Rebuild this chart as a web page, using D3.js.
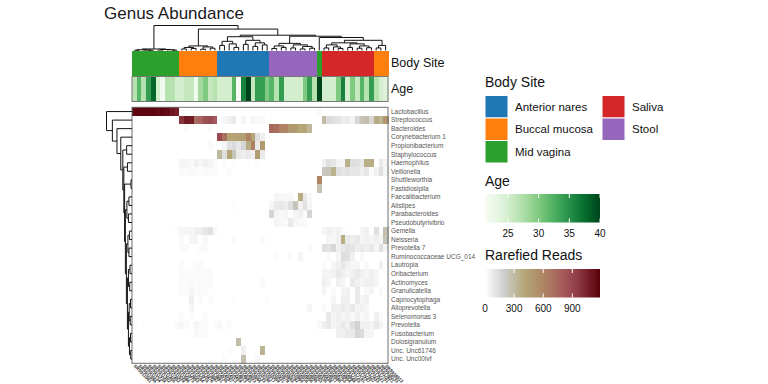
<!DOCTYPE html>
<html><head><meta charset="utf-8">
<script src="https://cdn.jsdelivr.net/npm/d3@7"></script>
<style>
body{margin:0;background:#fff;}
svg{display:block;font-family:"Liberation Sans",Arial,Helvetica,sans-serif;}
</style>
</head><body>
<svg id="chart" width="768" height="384"></svg>
<script>
// ---------------- DATA ----------------
const genera = ["Lactobacillus","Streptococcus","Bacteroides","Corynebacterium 1","Propionibacterium",
  "Staphylococcus","Haemophilus","Veillonella","Shuttleworthia","Fastidiosipila","Faecalibacterium",
  "Alistipes","Parabacteroides","Pseudobutyrivibrio","Gemella","Neisseria","Prevotella 7",
  "Ruminococcaceae UCG_014","Lautropia","Oribacterium","Actinomyces","Granulicatella","Capnocytophaga",
  "Alloprevotella","Selenomonas 3","Prevotella","Fusobacterium","Dolosigranulum","Unc. Unc61746","Unc. Unc00lvf"];

const samples = ["SRS011061","SRS011090","SRS011134","SRS011239","SRS011302","SRS011405","SRS011452","SRS011529",
  "SRS011586","SRS012273","SRS012663","SRS013164","SRS013215","SRS013476","SRS013687","SRS013881",
  "SRS014235","SRS014287","SRS014313","SRS014459","SRS014613","SRS014683","SRS014923","SRS015044",
  "SRS015133","SRS015190","SRS015217","SRS015369","SRS015431","SRS015578","SRS015663","SRS015782",
  "SRS015960","SRS016018","SRS016056","SRS016095","SRS016203","SRS016335","SRS016438","SRS016517",
  "SRS016585","SRS016753","SRS016954","SRS016989","SRS017103","SRS017191","SRS017247","SRS017307",
  "SRS017433","SRS017521","SRS017701","SRS017821","SRS018133","SRS018313"];

const bodySite = [
  "Mid vagina","Mid vagina","Mid vagina","Mid vagina","Mid vagina","Mid vagina","Mid vagina","Mid vagina","Mid vagina","Mid vagina",
  "Buccal mucosa","Buccal mucosa","Buccal mucosa","Buccal mucosa","Buccal mucosa","Buccal mucosa","Buccal mucosa","Buccal mucosa",
  "Anterior nares","Anterior nares","Anterior nares","Anterior nares","Anterior nares","Anterior nares","Anterior nares","Anterior nares","Anterior nares","Anterior nares","Anterior nares",
  "Stool","Stool","Stool","Stool","Stool","Stool","Stool","Stool","Stool","Stool",
  "Mid vagina",
  "Saliva","Saliva","Saliva","Saliva","Saliva","Saliva","Saliva","Saliva","Saliva","Saliva","Saliva",
  "Buccal mucosa","Buccal mucosa","Buccal mucosa"];

const age = [27,32,27,34,38,25,22,27,27,25, 25,26,26,22,28,30,26,27, 25,25,25,32,21,36,40,26,34,34,30,
  32,27,34,25,25,25,25,30,34,27, 40, 25,25,25,30,36,25,30,26,32,27,34, 27,25,24];

const siteNames = ["Anterior nares","Buccal mucosa","Mid vagina","Saliva","Stool"];
const siteColors = ["#1f77b4","#ff7f0e","#2ca02c","#d62728","#9467bd"];

const ageTicks = [25,30,35,40];
const ageLimits = [21.25,40];
const readTicks = [0,300,600,900];
const readLimits = [0,1185];
const readStops = [0,200,400,620,800,930,1185];
const readColors = ["#ffffff","#cdcdcd","#b4a878","#ae8262","#a65c5c","#94404a","#5a0008"];

// rarefied reads, one row per genus, one value per sample (column order above)
const reads = [
 [1170,1160,1170,1165,1170,1150,1160,1140,1090,1060, 0,0,0,0,0,0,0,0, 0,0,0,0,0,0,0,0,0,0,0, 0,0,0,0,0,0,0,0,0,0, 20, 0,0,0,0,0,0,0,0,0,0,0, 0,0,0],
 [0,0,0,0,0,0,0,0,0,15, 980,1080,1070,720,760,860,880,820, 0,40,60,90,0,40,0,40,20,30,0, 0,0,0,0,0,0,0,0,0,0, 0, 300,150,130,110,70,80,50,160,260,280,170, 380,330,520],
 [0,0,0,0,0,0,0,0,0,0, 0,15,0,0,0,0,15,0, 0,0,0,0,0,0,0,0,0,0,0, 740,720,620,600,500,480,400,420,320,0, 0, 0,0,0,0,0,0,0,0,0,0,0, 0,0,0],
 [0,0,0,0,0,0,0,0,0,0, 0,0,0,0,0,0,0,0, 880,700,420,430,450,440,620,420,130,60,0, 0,0,0,0,0,0,0,0,0,0, 0, 0,0,0,0,0,0,0,0,0,0,0, 0,0,0],
 [0,0,0,0,0,0,0,0,0,0, 0,0,0,0,0,0,20,0, 0,40,130,150,100,170,380,640,90,480,0, 0,0,0,0,0,0,0,0,0,0, 0, 0,0,0,0,0,0,0,0,0,0,0, 0,0,0],
 [0,0,0,0,0,0,0,0,0,0, 0,0,0,0,0,0,0,0, 310,130,420,250,90,70,90,60,470,90,0, 0,0,0,0,0,0,0,0,0,0, 0, 0,0,0,0,0,0,0,0,0,0,0, 0,0,0],
 [0,0,0,0,0,0,0,0,0,0, 40,40,25,60,40,60,40,20, 0,20,0,15,0,0,0,0,15,0,0, 0,0,0,0,0,0,0,0,0,0, 0, 60,130,100,50,40,360,130,120,90,360,370, 0,90,40],
 [0,0,0,0,0,0,0,0,0,0, 20,15,25,20,15,25,20,15, 0,0,15,0,0,0,0,0,0,0,0, 0,0,0,0,0,0,0,0,0,0, 0, 230,240,350,130,100,120,100,100,70,100,20, 60,130,40],
 [0,0,0,0,0,0,0,0,0,0, 0,0,0,0,0,0,0,0, 0,0,0,0,0,0,0,0,0,0,0, 0,0,0,0,0,0,0,0,0,0, 600, 0,0,0,0,0,0,0,0,0,0,0, 0,0,0],
 [0,0,0,0,0,0,0,0,0,0, 0,0,0,0,0,0,0,0, 0,0,0,0,0,0,0,0,0,0,0, 0,0,0,0,0,0,0,0,0,0, 260, 0,0,0,0,0,0,0,0,0,0,0, 0,0,0],
 [0,0,0,0,0,0,0,0,0,0, 0,0,0,0,0,0,0,0, 0,0,0,0,0,0,0,0,0,0,0, 0,40,30,30,30,0,380,90,30,0, 0, 0,0,0,0,0,0,0,0,0,0,0, 0,0,0],
 [0,0,0,0,0,0,0,0,0,0, 0,0,0,0,0,0,0,0, 0,0,0,15,0,0,0,0,0,0,0, 40,90,90,70,130,250,60,120,40,0, 0, 0,0,0,0,0,0,0,0,0,0,0, 0,0,0],
 [0,0,0,0,0,0,0,0,0,0, 0,0,0,0,0,0,0,0, 0,0,0,0,0,0,0,0,0,0,0, 170,40,30,40,0,40,60,20,170,0, 0, 0,0,0,0,0,0,0,0,0,0,0, 0,0,0],
 [0,0,0,0,0,0,0,0,0,0, 0,0,0,0,0,0,0,0, 0,0,0,0,0,0,0,0,0,0,0, 0,40,30,20,90,40,30,20,0,0, 0, 0,0,0,0,0,0,0,0,0,0,0, 0,0,0],
 [0,0,0,0,0,0,0,0,0,15, 40,40,35,60,70,100,120,30, 0,0,0,0,0,0,0,0,0,0,0, 0,0,0,0,0,0,0,0,0,0, 0, 40,60,40,60,20,0,0,0,40,60,0, 130,20,270],
 [0,0,0,0,0,0,0,0,0,0, 25,0,35,40,0,30,0,0, 0,0,0,15,0,0,0,0,0,20,0, 0,0,0,0,0,0,0,0,0,0, 0, 0,40,35,60,370,90,70,90,40,60,40, 60,40,250],
 [0,0,0,0,0,0,0,0,0,0, 20,20,0,0,15,20,0,0, 0,0,0,0,0,0,0,0,0,0,0, 0,0,0,0,0,0,0,0,25,0, 0, 130,120,160,60,90,120,100,70,90,70,90, 40,130,40],
 [0,0,0,0,0,0,0,0,0,0, 0,0,0,0,0,0,0,0, 0,0,0,0,0,0,0,0,0,0,0, 0,15,0,0,15,0,40,0,0,0, 0, 0,20,0,40,130,120,60,0,30,0,0, 0,0,0],
 [0,0,0,0,0,0,0,0,0,0, 15,0,0,20,20,0,0,0, 0,0,0,0,0,0,0,0,0,0,0, 0,0,0,0,0,0,0,0,0,0, 0, 20,0,40,60,100,60,40,40,0,25,0, 0,60,0],
 [0,0,0,0,0,0,0,0,0,0, 20,15,20,15,20,20,15,0, 0,0,0,0,0,0,0,0,0,0,0, 0,0,0,0,0,0,0,0,0,0, 0, 40,40,60,90,70,40,60,90,60,40,60, 40,0,0],
 [0,0,0,0,0,0,0,0,0,0, 15,20,25,15,20,15,25,0, 0,0,0,0,0,0,0,0,0,20,0, 0,0,0,0,0,0,0,0,0,0, 0, 60,40,0,60,40,0,90,60,40,60,60, 40,0,0],
 [0,0,0,0,0,0,0,0,0,0, 15,15,40,15,20,15,0,0, 0,0,0,0,0,0,0,0,0,0,0, 0,0,0,0,0,0,0,0,0,0, 0, 40,0,20,0,40,60,0,90,0,25,40, 0,30,0],
 [0,0,0,0,0,0,0,0,0,0, 0,0,60,0,20,0,15,0, 0,0,0,15,0,0,0,0,0,0,15, 0,0,0,0,0,0,0,0,0,0, 0, 0,0,40,0,60,60,0,90,40,60,0, 0,0,0],
 [0,0,0,0,0,0,0,0,0,0, 0,0,40,0,0,0,0,0, 0,0,0,0,0,0,0,0,0,0,0, 0,0,0,0,0,0,0,0,40,0, 0, 20,0,60,60,90,60,90,40,60,40,0, 0,0,0],
 [0,0,0,0,0,0,0,0,0,0, 15,0,15,0,0,15,0,0, 0,0,0,0,0,0,0,0,0,0,0, 0,0,0,0,0,0,0,0,0,0, 0, 0,90,40,60,40,60,30,60,20,40,0, 60,20,0],
 [15,0,0,0,0,0,0,0,0,20, 35,20,0,40,30,20,0,15, 30,0,20,0,0,0,0,0,0,0,0, 0,0,0,0,0,0,0,0,0,0, 30, 60,90,40,60,90,60,130,180,60,60,40, 90,40,0],
 [0,0,0,0,0,0,0,0,0,0, 0,0,0,30,20,20,0,0, 0,0,0,0,0,0,0,0,0,0,0, 0,0,0,0,0,0,0,0,0,0, 0, 0,0,0,60,60,90,90,170,140,40,40, 0,0,0],
 [0,0,0,0,0,0,0,0,0,0, 0,0,0,0,0,0,0,0, 0,0,0,0,280,0,0,0,0,0,0, 0,0,0,0,0,0,0,0,0,0, 0, 0,0,0,0,0,0,0,0,0,0,0, 0,0,0],
 [0,0,0,0,0,0,0,0,0,0, 0,0,0,0,0,0,0,0, 0,0,15,0,0,60,0,0,0,340,0, 0,0,0,0,0,0,0,0,0,0, 0, 0,0,0,0,0,0,0,0,0,0,0, 0,0,0],
 [0,0,0,0,0,0,0,0,0,0, 0,0,0,0,0,0,0,0, 0,15,0,0,0,270,0,0,30,0,0, 0,0,0,0,0,0,0,0,0,0, 0, 0,0,0,0,0,0,0,0,0,0,0, 0,0,0]
];

// clustering trees: [height, left, right]; leaves are column / row indices
const colTree = [98,
  [6, [3,[1,0,1],[2,2,[1,3,4]]], [4,[2,5,6],[3,7,[1,8,9]]]],
  [84,
    [18, [12,[6,10,11],[8,12,13]], [14,[5,14,15],[9,16,17]]],
    [60,
      [54, [36,[20,18,19],[26,20,[12,21,22]]], [40,[24,23,24],[30,[16,25,26],[22,27,28]]]],
      [56,
        [28, [18,[8,29,30],[12,31,32]], [22,[10,33,34],[16,[6,35,36],[9,37,38]]]],
        [51, 39,
          [40,
            [30, [22,[10,40,41],[14,42,[8,43,44]]], [26,[12,45,46],[18,[9,47,48],[11,49,50]]]],
            [20, [10,51,52], 53]]]]]]];

const rowTree = [100, 0, [77, 1, [59, 2, [44, 3, [36, [21,4,5], [32, [18,6,7], [29, [4,8,9],
  [26, [20,[12,10,11],[14,12,13]], [22, [16,[10,14,15],[12,16,17]], [18, [14,[8,18,19],[9,20,21]],
  [14, [11,[6,22,23],[7,24,25]], [10,[6,26,27],[5,28,29]]]]]]]]]]]]];

// ---------------- DRAW ----------------
const svg = d3.select("#chart");
const hm = {left:132, right:388, top:107.3, bottom:363.3};
const siteBar = {top:50.5, h:25};
const ageBar = {top:76.5, h:25};

const x = d3.scaleBand().domain(d3.range(samples.length)).range([hm.left, hm.right]);
const y = d3.scaleBand().domain(d3.range(genera.length)).range([hm.top, hm.bottom]);
const readColor = d3.scaleLinear().domain(readStops).range(readColors).clamp(true);
const ageColor = d3.scaleSequential(d3.interpolateGreens).domain(ageLimits);
const siteColor = d3.scaleOrdinal().domain(siteNames).range(siteColors);

// title
svg.append("text").attr("x",104).attr("y",19).attr("font-size",17).attr("fill","#1a1a1a").text("Genus Abundance");

// heatmap cells
const cells = [];
reads.forEach((row,r) => row.forEach((v,c) => cells.push({r,c,v})));
svg.append("g").attr("shape-rendering","crispEdges").selectAll("rect").data(cells).join("rect")
  .attr("x",d=>x(d.c)).attr("y",d=>y(d.r))
  .attr("width",x.bandwidth()+0.6).attr("height",y.bandwidth()+0.6)
  .attr("fill",d=>readColor(d.v));
svg.append("rect").attr("x",hm.left).attr("y",hm.top).attr("width",hm.right-hm.left).attr("height",hm.bottom-hm.top)
  .attr("fill","none").attr("stroke","#6e6e6e").attr("stroke-width",1);

// annotations
svg.append("g").attr("shape-rendering","crispEdges").selectAll("rect").data(bodySite).join("rect")
  .attr("x",(d,i)=>x(i)).attr("y",siteBar.top).attr("width",x.bandwidth()+0.6).attr("height",siteBar.h)
  .attr("fill",d=>siteColor(d));
svg.append("g").attr("shape-rendering","crispEdges").selectAll("rect").data(age).join("rect")
  .attr("x",(d,i)=>x(i)).attr("y",ageBar.top).attr("width",x.bandwidth()+0.6).attr("height",ageBar.h)
  .attr("fill",d=>ageColor(d));
svg.append("rect").attr("x",hm.left).attr("y",ageBar.top).attr("width",hm.right-hm.left).attr("height",ageBar.h)
  .attr("fill","none").attr("stroke","#777").attr("stroke-width",1);
svg.append("text").attr("x",391).attr("y",siteBar.top+siteBar.h/2).attr("dy","0.35em").attr("font-size",12.5).attr("fill","#111").text("Body Site");
svg.append("text").attr("x",391).attr("y",ageBar.top+ageBar.h/2).attr("dy","0.35em").attr("font-size",12.5).attr("fill","#111").text("Age");

// row labels
svg.append("g").selectAll("text").data(genera).join("text")
  .attr("x",hm.right+3).attr("y",(d,i)=>y(i)+y.bandwidth()/2).attr("dy","0.35em")
  .attr("font-size",6.5).attr("fill","#555").text(d=>d);

// column labels
svg.append("g").selectAll("text").data(samples).join("text")
  .attr("transform",(d,i)=>`translate(${x(i)+x.bandwidth()/2-1},${hm.bottom+3}) rotate(45)`)
  .attr("font-size",4.4).attr("fill","#1a1a1a").attr("font-weight","bold").text(d=>d);

// dendrograms
function drawTree(tree, pos, hScale, orient){
  const root = d3.hierarchy(tree, d => Array.isArray(d) ? d.slice(1) : null);
  root.eachAfter(n => {
    if (!n.children){ n.p = pos(n.data); n.h = 0; }
    else { n.h = n.data[0]; n.p = (n.children[0].p + n.children[1].p)/2; }
  });
  const path = d3.path();
  root.each(n => {
    if (!n.children) return;
    const [a,b] = n.children;
    if (orient === "top"){
      path.moveTo(a.p, hScale(a.h)); path.lineTo(a.p, hScale(n.h)); path.lineTo(b.p, hScale(n.h)); path.lineTo(b.p, hScale(b.h));
    } else {
      path.moveTo(hScale(a.h), a.p); path.lineTo(hScale(n.h), a.p); path.lineTo(hScale(n.h), b.p); path.lineTo(hScale(b.h), b.p);
    }
  });
  svg.append("path").attr("d",path.toString()).attr("fill","none").attr("stroke","#111").attr("stroke-width",1);
}
drawTree(colTree, i => x(i)+x.bandwidth()/2, d3.scaleLinear().domain([0,100]).range([siteBar.top, 25]), "top");
drawTree(rowTree, i => y(i)+y.bandwidth()/2, d3.scaleLinear().domain([0,100]).range([hm.left, 106.5]), "left");

// ---------------- LEGENDS ----------------
const lg = svg.append("g");
lg.append("text").attr("x",485).attr("y",87).attr("font-size",14).attr("fill","#111").text("Body Site");
const sw = {w:23, h:22.5, x0:485, y0:95.5, colGap:117, labelDx:30};
siteNames.forEach((s,i) => {
  const col = Math.floor(i/3), row = i%3;
  const sx = sw.x0 + col*sw.colGap, sy = sw.y0 + row*sw.h;
  lg.append("rect").attr("x",sx).attr("y",sy).attr("width",sw.w).attr("height",sw.h)
    .attr("fill",siteColor(s)).attr("stroke","#fff").attr("stroke-width",1);
  lg.append("text").attr("x",sx+sw.labelDx).attr("y",sy+sw.h/2).attr("dy","0.35em")
    .attr("font-size",11.5).attr("fill","#111").text(s);
});

function colorbar(title, titleY, barY, scale, ticks, limits, nStops){
  lg.append("text").attr("x",485).attr("y",titleY).attr("font-size",14).attr("fill","#111").text(title);
  const bx = d3.scaleLinear().domain(limits).range([485,600]);
  const gid = "g"+title.replace(/\s/g,"");
  const grad = svg.append("defs").append("linearGradient").attr("id",gid);
  d3.range(nStops+1).forEach(k => {
    const v = limits[0] + (limits[1]-limits[0])*k/nStops;
    grad.append("stop").attr("offset",(k/nStops*100)+"%").attr("stop-color",scale(v));
  });
  const bh = 28.5;
  lg.append("rect").attr("x",485).attr("y",barY).attr("width",115).attr("height",bh).attr("fill",`url(#${gid})`);
  ticks.forEach(t => {
    const tx = bx(t);
    lg.append("line").attr("x1",tx).attr("x2",tx).attr("y1",barY).attr("y2",barY+4).attr("stroke","#fff").attr("stroke-width",1);
    lg.append("line").attr("x1",tx).attr("x2",tx).attr("y1",barY+bh-4).attr("y2",barY+bh).attr("stroke","#fff").attr("stroke-width",1);
    lg.append("text").attr("x",tx).attr("y",barY+bh+11).attr("dy","0.35em").attr("text-anchor","middle")
      .attr("font-size",10).attr("fill","#111").text(t);
  });
}
colorbar("Age", 186, 194, ageColor, ageTicks, ageLimits, 20);
colorbar("Rarefied Reads", 260, 269, readColor, readTicks, readLimits, 30);
</script>
</body></html>
